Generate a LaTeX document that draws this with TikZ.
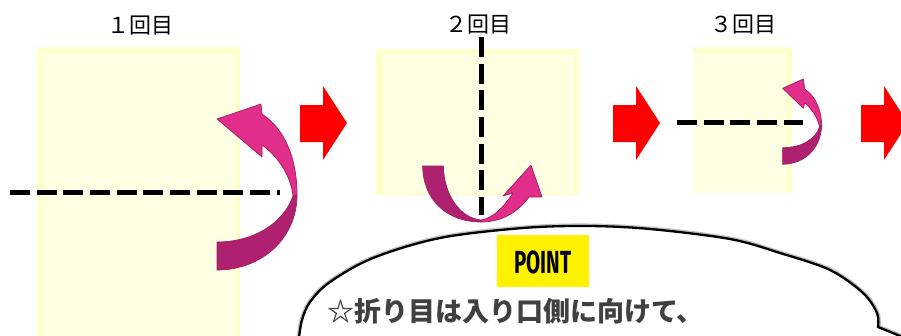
\documentclass[tikz,border=0pt]{standalone}
\usepackage{fontspec}
\newfontfamily\jp{Noto Sans CJK JP}
\newfontfamily\pointfont{Fira Sans}
\definecolor{paperedge}{RGB}{255,255,204}
\definecolor{paper}{RGB}{255,255,228}
\definecolor{pinkA}{RGB}{225,46,138}
\definecolor{pinkB}{RGB}{174,33,112}
\definecolor{pinkline}{RGB}{160,30,95}
\definecolor{txtgray}{RGB}{64,64,64}
\begin{document}
\begin{tikzpicture}[x=1pt,y=-1pt,
  foldline/.style={line width=5pt, dash pattern=on 20pt off 6.67pt},
  ribbonA/.style={fill=pinkA, draw=pinkline, line width=0.7pt, line join=round},
  ribbonB/.style={fill=pinkB, draw=pinkline, line width=0.7pt, line join=round},
  nextarrow/.style={fill=red},
  title/.style={font=\jp\fontsize{22}{22}\selectfont, anchor=center, inner sep=0pt}]
\useasboundingbox (0,0) rectangle (901,335);
\clip (0,0) rectangle (901,335);
% papers
\fill[paperedge] (37,47) rectangle (240,336);
\fill[paper] (43,53) rectangle (236,336);
\fill[paperedge] (376,49) rectangle (579,195);
\fill[paper] (383,54) rectangle (574,193);
\fill[paperedge] (693,47) rectangle (792,193);
\fill[paper] (693,53) rectangle (786,193);
% titles
\node[title] (t1) at (140,26) {１回目};
\node[title] (t2) at (478.5,25) {２回目};
\node[title] (t3) at (743,25) {３回目};
% red arrows
\foreach \dx in {0,313,561}{
  \fill[nextarrow, xshift=\dx pt] (300,105) -- (323,105) -- (323,86) -- (347,123) -- (323,160) -- (323,142) -- (300,142) -- cycle;
}
% fold arrow 1
\draw[ribbonB] (217,270) .. controls (262,270) and (297,238) .. (297,195) -- (293,196) .. controls (284,222) and (255,242) .. (217,242) -- cycle;
\draw[ribbonA] (297,195) .. controls (297,160) and (286,130) .. (262,114) -- (261,104) -- (217,119) -- (262,157) -- (262,145) .. controls (279,157) and (291,177) .. (293,196) -- cycle;
% fold arrow 2
\draw[ribbonB] (422.7,166) -- (443.3,166) .. controls (444,195) and (460,218) .. (481,220) -- (481,222) .. controls (447,222) and (423,200) .. (422.7,166) -- cycle;
\draw[ribbonA] (481,222) .. controls (502,222) and (518,212) .. (529,197) -- (542,197) -- (531,165) -- (503,196) -- (513,193) .. controls (503,208) and (493,218) .. (481,220) -- cycle;
% fold arrow 3
\draw[ribbonB] (782.7,164.3) .. controls (805,164) and (821,148) .. (821.7,125) -- (819.5,127) .. controls (816,138) and (803,147.7) .. (782.7,147.7) -- cycle;
\draw[ribbonA] (821.7,125) .. controls (821,108) and (815,96) .. (804.7,89) -- (803.3,79) -- (782.7,88.3) -- (803.3,108.3) -- (804.7,103) .. controls (812,109) and (818,118) .. (819.5,127) -- cycle;
% fold lines
\coordinate (l1a) at (10,192); \coordinate (l1b) at (279.5,192);
\coordinate (l2a) at (481,37); \coordinate (l2b) at (481,215);
\coordinate (l3a) at (677,122); \coordinate (l3b) at (803,122);
\draw[foldline] (l1a) -- (l1b);
\draw[foldline] (l2a) -- (l2b);
\draw[foldline] (l3a) -- (l3b);
% speech bubble
\draw[line width=5pt, black!25] plot[smooth, tension=0.55] coordinates {(299,338) (302,320) (310,302) (330,282) (373,258) (440,238) (523,228) (588,226) (650,229) (730,239) (780,253) (830,270) (863,293) (877,313) (878,327)} -- (905,338);
\draw[line width=2.3pt, fill=white] plot[smooth, tension=0.55] coordinates {(299,338) (302,320) (310,302) (330,282) (373,258) (440,238) (523,228) (588,226) (650,229) (730,239) (780,253) (830,270) (863,293) (877,313) (878,327)} -- (905,338);
\fill[yellow] (497,235) rectangle (589,287);
\node[inner sep=0pt] (point) at (543,262) {\pointfont\bfseries\fontsize{32}{32}\selectfont\scalebox{0.64}[1]{POINT}};
\node[anchor=west, inner sep=0pt, text=txtgray, font=\jp\bfseries\fontsize{27}{27}\selectfont] (msg) at (327,311) {☆折り目は入り口側に向けて、};
\end{tikzpicture}
\end{document}
